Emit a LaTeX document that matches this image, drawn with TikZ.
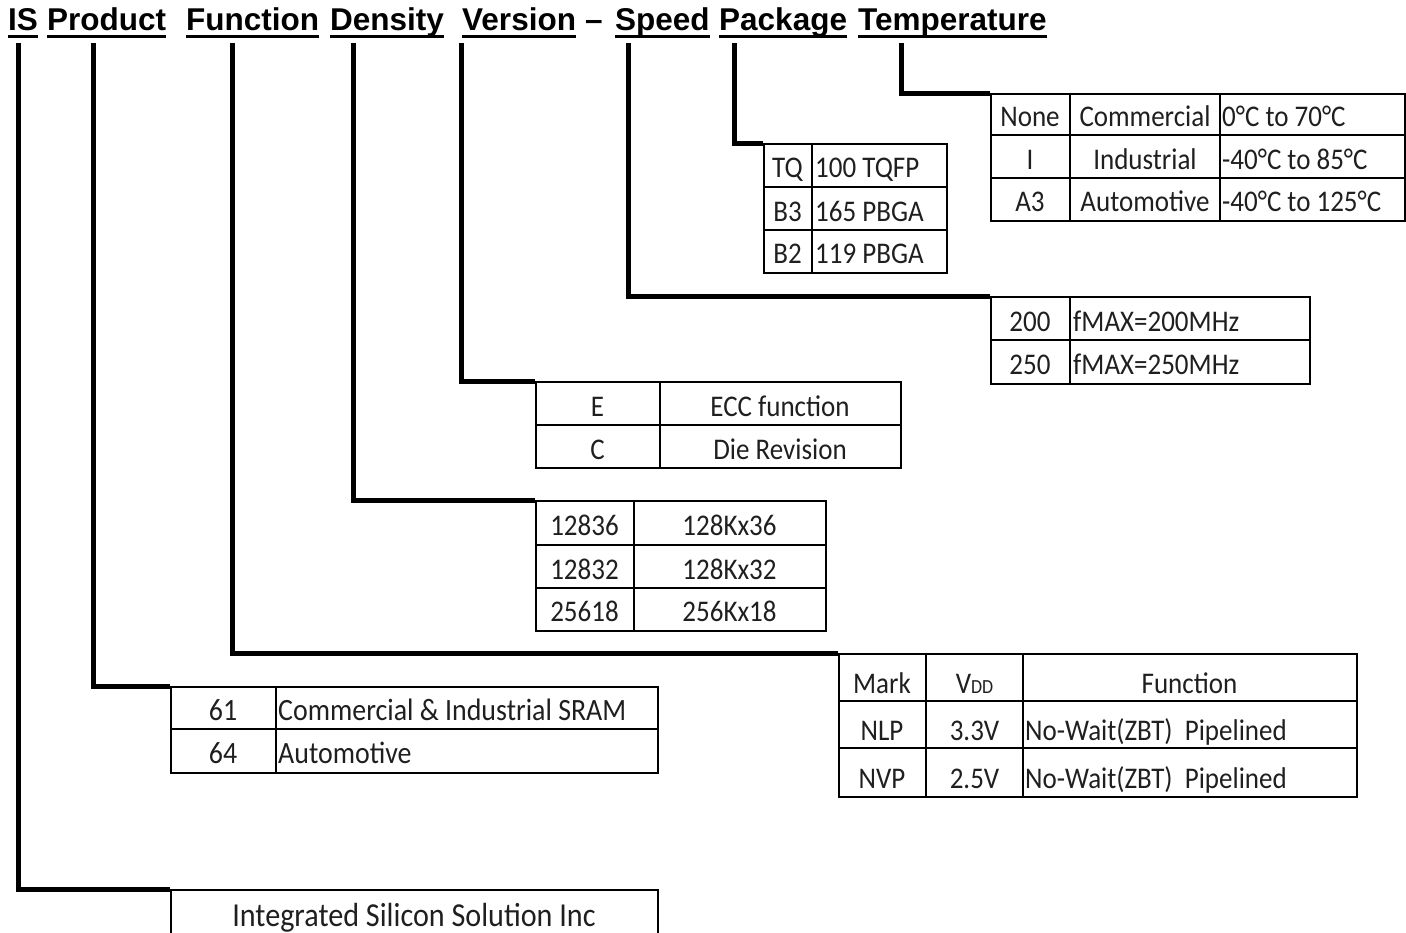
\documentclass[tikz,border=0pt]{standalone}
\usepackage{fontspec}
\setmainfont{Carlito}[FakeStretch=0.9]
\newfontfamily\hdrfont{Liberation Sans}
\begin{document}
\begin{tikzpicture}[x=1pt,y=-1pt,
  hdr/.style={font=\hdrfont\bfseries\fontsize{31.5}{31.5}\selectfont, inner sep=0pt, anchor=base west},
  uline/.style={line width=3pt},
  conn/.style={line width=5pt, line join=miter},
  tbl/.style={draw, line width=2.2pt, anchor=north west, inner sep=0pt},
  grid/.style={line width=2.2pt},
  cell/.style={font=\fontsize{30}{30}\selectfont, text=black!88, inner sep=0pt, anchor=base},
  lcell/.style={cell, anchor=base west},
  bigcell/.style={cell, font=\fontsize{31}{31}\selectfont},
  lbigcell/.style={bigcell, anchor=base west}]
\useasboundingbox (0,0) rectangle (1406,932);

% ---------- header ----------
\node[hdr] (hIS)   at (8,30)   {IS};
\node[hdr] (hProd) at (47,30)  {Product};
\node[hdr] (hFunc) at (186,30) {Function};
\node[hdr] (hDens) at (330,30) {Density};
\node[hdr] (hVer)  at (462,30) {Version};
\node[hdr] (hDash) at (585,30) {–};
\node[hdr] (hSpd)  at (615,30) {Speed};
\node[hdr] (hPkg)  at (719,30) {Package};
\node[hdr] (hTmp)  at (858,30) {Temperature};
\foreach \n in {hIS,hProd,hFunc,hDens,hVer,hSpd,hPkg,hTmp}
  \draw[uline] ([yshift=-6pt]\n.base west) -- ([yshift=-6pt]\n.base east);

% ---------- connector start points ----------
\coordinate (sIS)   at (18,43);
\coordinate (sProd) at (93,43);
\coordinate (sFunc) at (232,43);
\coordinate (sDens) at (353,43);
\coordinate (sVer)  at (461,43);
\coordinate (sSpd)  at (628,43);
\coordinate (sPkg)  at (734,43);
\coordinate (sTmp)  at (901,43);

% ---------- Temperature table ----------
\node[tbl, minimum width=414pt, minimum height=127pt] (tTmp) at (990,93) {};
\draw[grid] (990,135) -- (1404,135) (990,178) -- (1404,178)
            (1070,93) -- (1070,220) (1220,93) -- (1220,220);
\node[cell]  (t11) at (1030,126) {None};
\node[cell]  (t12) at (1145,126) {Commercial};
\node[lcell] (t13) at (1222,126) {0°C to 70°C};
\node[cell]  (t21) at (1030,169) {I};
\node[cell]  (t22) at (1145,169) {Industrial};
\node[lcell] (t23) at (1222,169) {-40°C to 85°C};
\node[cell]  (t31) at (1030,211) {A3};
\node[cell]  (t32) at (1145,211) {Automotive};
\node[lcell] (t33) at (1222,211) {-40°C to 125°C};

% ---------- Package table ----------
\node[tbl, minimum width=183pt, minimum height=129pt] (tPkg) at (763,143) {};
\draw[grid] (763,187) -- (946,187) (763,230) -- (946,230) (812,143) -- (812,272);
\node[cell]  (p11) at (787.5,177) {TQ};
\node[lcell] (p12) at (815,177)   {100 TQFP};
\node[cell]  (p21) at (787.5,221) {B3};
\node[lcell] (p22) at (815,221)   {165 PBGA};
\node[cell]  (p31) at (787.5,263) {B2};
\node[lcell] (p32) at (815,263)   {119 PBGA};

% ---------- Speed table ----------
\node[tbl, minimum width=319pt, minimum height=87pt] (tSpd) at (990,296) {};
\draw[grid] (990,340) -- (1309,340) (1070,296) -- (1070,383);
\node[cell]  (s11) at (1030,331) {200};
\node[lcell] (s12) at (1073,331) {fMAX=200MHz};
\node[cell]  (s21) at (1030,374) {250};
\node[lcell] (s22) at (1073,374) {fMAX=250MHz};

% ---------- Version table ----------
\node[tbl, minimum width=365pt, minimum height=86pt] (tVer) at (535,381) {};
\draw[grid] (535,425) -- (900,425) (660,381) -- (660,467);
\node[cell] (v11) at (597.5,416) {E};
\node[cell] (v12) at (780,416)   {ECC function};
\node[cell] (v21) at (597.5,459) {C};
\node[cell] (v22) at (780,459)   {Die Revision};

% ---------- Density table ----------
\node[tbl, minimum width=290pt, minimum height=130pt] (tDens) at (535,500) {};
\draw[grid] (535,545) -- (825,545) (535,588) -- (825,588) (634,500) -- (634,630);
\node[cell] (d11) at (584.5,535) {12836};
\node[cell] (d12) at (729.5,535) {128Kx36};
\node[cell] (d21) at (584.5,579) {12832};
\node[cell] (d22) at (729.5,579) {128Kx32};
\node[cell] (d31) at (584.5,621) {25618};
\node[cell] (d32) at (729.5,621) {256Kx18};

% ---------- Function table ----------
\node[tbl, minimum width=518pt, minimum height=143pt] (tFunc) at (838,653) {};
\draw[grid] (838,701) -- (1356,701) (838,748) -- (1356,748)
            (926,653) -- (926,796) (1023,653) -- (1023,796);
\node[cell]  (f11) at (882,693)    {Mark};
\node[cell]  (f12) at (974.5,693)  {V{\fontsize{20}{20}\selectfont DD}};
\node[cell]  (f13) at (1189.5,693) {Function};
\node[cell]  (f21) at (882,740)    {NLP};
\node[cell]  (f22) at (974.5,740)  {3.3V};
\node[lcell] (f23) at (1025,740)   {No-Wait(ZBT)\ \ Pipelined};
\node[cell]  (f31) at (882,788)    {NVP};
\node[cell]  (f32) at (974.5,788)  {2.5V};
\node[lcell] (f33) at (1025,788)   {No-Wait(ZBT)\ \ Pipelined};

% ---------- Product table ----------
\node[tbl, minimum width=487pt, minimum height=86pt] (tProd) at (170,686) {};
\draw[grid] (170,729) -- (657,729) (276,686) -- (276,772);
\node[bigcell]  (r11) at (223,720) {61};
\node[lbigcell] (r12) at (278,720) {Commercial \& Industrial SRAM};
\node[bigcell]  (r21) at (223,763) {64};
\node[lbigcell] (r22) at (278,763) {Automotive};

% ---------- IS table ----------
\node[tbl, minimum width=487pt, minimum height=70pt] (tIS) at (170,889) {};
\node[cell, font=\fontsize{33.5}{33.5}\selectfont] (i11) at (414,926) {Integrated Silicon Solution Inc};

% ---------- connectors ----------
\draw[conn] (sTmp)  |- (tTmp.north west);
\draw[conn] (sPkg)  |- (tPkg.north west);
\draw[conn] (sSpd)  |- (tSpd.north west);
\draw[conn] (sVer)  |- (tVer.north west);
\draw[conn] (sDens) |- (tDens.north west);
\draw[conn] (sFunc) |- (tFunc.north west);
\draw[conn] (sProd) |- (tProd.north west);
\draw[conn] (sIS)   |- (tIS.north west);
\end{tikzpicture}
\end{document}
